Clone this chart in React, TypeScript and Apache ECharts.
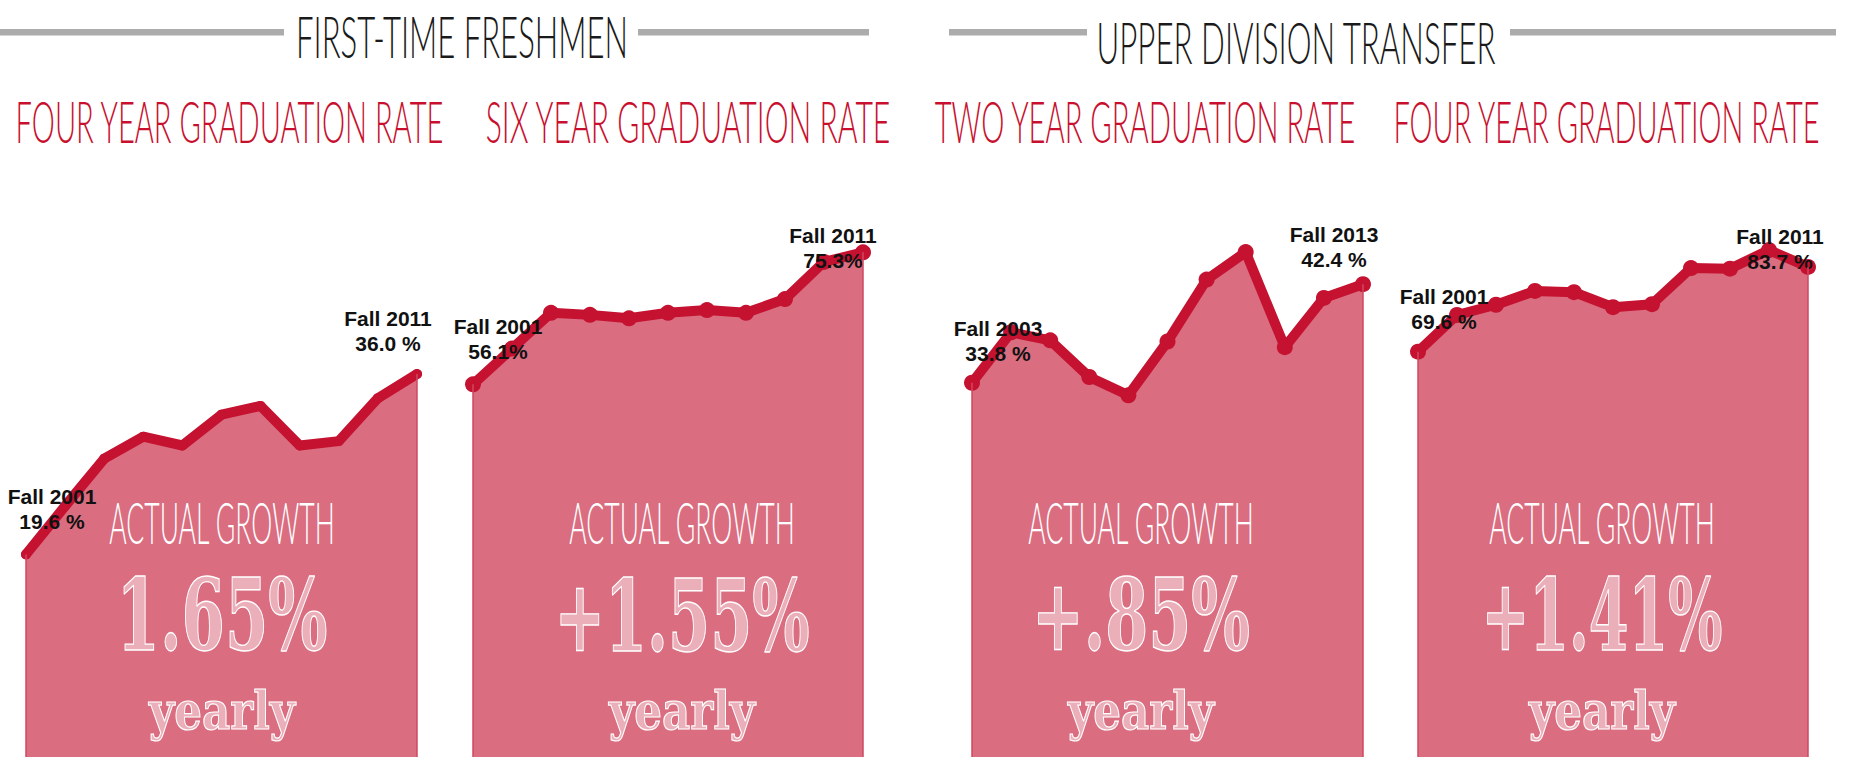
import React, { useEffect, useRef } from 'react';
import * as echarts from 'echarts';

// ---------- data ----------
const cohortsA = ['2001', '2002', '2003', '2004', '2005', '2006', '2007', '2008', '2009', '2010', '2011'];
const cohortsB = ['2003', '2004', '2005', '2006', '2007', '2008', '2009', '2010', '2011', '2012', '2013'];

const ftfFourYear = [19.6, 24.0, 28.3, 30.3, 29.5, 32.3, 33.1, 29.5, 29.9, 33.8, 36.0];
const ftfSixYear = [56.1, 61.3, 66.5, 66.2, 65.7, 66.5, 66.9, 66.5, 68.5, 73.9, 75.3];
const udtTwoYear = [33.8, 38.2, 37.5, 34.3, 32.7, 37.4, 42.8, 45.2, 36.9, 41.2, 42.4];
const udtFourYear = [69.6, 75.7, 77.4, 79.7, 79.5, 77.0, 77.5, 83.5, 83.4, 86.5, 83.7];

const groupTitles = ['FIRST-TIME FRESHMEN', 'UPPER DIVISION TRANSFER'];
const panelTitles = ['FOUR YEAR GRADUATION RATE', 'SIX YEAR GRADUATION RATE', 'TWO YEAR GRADUATION RATE', 'FOUR YEAR GRADUATION RATE'];
const growthHeading = 'ACTUAL GROWTH';
const growthValues = ['1.65%', '+1.55%', '+.85%', '+1.41%'];
const growthUnit = 'yearly';
const startLabels = ['Fall 2001\n19.6 %', 'Fall 2001\n56.1%', 'Fall 2003\n33.8 %', 'Fall 2001\n69.6 %'];
const endLabels = ['Fall 2011\n36.0 %', 'Fall 2011\n75.3%', 'Fall 2013\n42.4 %', 'Fall 2011\n83.7 %'];
const yMax = [50, 80, 48, 91.5];

const panelSeries = [ftfFourYear, ftfSixYear, udtTwoYear, udtFourYear];
const panelCategories = [cohortsA, cohortsA, cohortsB, cohortsA];

// ---------- layout / style ----------
const LINE = '#c41230';
const FILL = '#da6d80';
const EDGE = '#cf4862';
const TITLE_RED = '#c8102e';

const panelLayout = [
  { left: 26, width: 391, cx: 222, titleCx: 229.5, titleW: 429, numW: 211, sym: 10, startOff: [26, -15.5], endOff: [-29, -13.3] },
  { left: 473, width: 390, cx: 682, titleCx: 688, titleW: 406, numW: 255, sym: 16, startOff: [25, -12], endOff: [-30, 29] },
  { left: 972, width: 391, cx: 1141, titleCx: 1145, titleW: 422, numW: 218, sym: 16, startOff: [26, -9], endOff: [-29, -4] },
  { left: 1418, width: 390, cx: 1602, titleCx: 1606.5, titleW: 427, numW: 241, sym: 16, startOff: [26, -10], endOff: [-28, 15] },
];
const groupLayout = [
  { cx: 462, cy: 35.5, w: 332 },
  { cx: 1296, cy: 41.5, w: 400 },
];
const rules = [[0, 284], [638, 869], [949, 1087], [1510, 1836]];

export default function App() {
  const ref = useRef<HTMLDivElement>(null);

  useEffect(() => {
    const el = ref.current;
    if (!el) return;
    const chart = echarts.init(el, undefined, { renderer: 'svg' });
    const ctx = document.createElement('canvas').getContext('2d') as CanvasRenderingContext2D;
    const fit = (text: string, weight: string | number, size: number, family: string, width: number) => {
      ctx.font = `${weight} ${size}px ${family}`;
      const w = ctx.measureText(text).width;
      return w > 0 ? width / w : 1;
    };

    const CONDENSED = 'Lato';
    const CHALK = 'DejaVu Serif';

    const graphics: any[] = [];
    rules.forEach(([x0, x1]) => {
      graphics.push({ type: 'rect', z: 100, shape: { x: x0, y: 29, width: x1 - x0, height: 6.5 }, style: { fill: '#acacac' } });
    });
    groupTitles.forEach((t, i) => {
      const g = groupLayout[i];
      graphics.push({
        type: 'text', z: 100, x: g.cx, y: g.cy, scaleX: fit(t, 300, 58, CONDENSED, g.w),
        style: { text: t, fontFamily: CONDENSED, fontWeight: 300, fontSize: 58, fill: '#1a1a1a', align: 'center', verticalAlign: 'middle' },
      });
    });
    panelTitles.forEach((t, i) => {
      const p = panelLayout[i];
      graphics.push({
        type: 'text', z: 100, x: p.titleCx, y: 121, scaleX: fit(t, 300, 57, CONDENSED, p.titleW),
        style: { text: t, fontFamily: CONDENSED, fontWeight: 300, fontSize: 57, fill: TITLE_RED, align: 'center', verticalAlign: 'middle' },
      });
      graphics.push({
        type: 'text', z: 100, x: p.cx, y: 521.5, scaleX: fit(growthHeading, 300, 58, CONDENSED, 226),
        style: { text: growthHeading, fontFamily: CONDENSED, fontWeight: 300, fontSize: 58, fill: '#ffffff', align: 'center', verticalAlign: 'middle' },
      });
      graphics.push({
        type: 'text', z: 100, x: p.cx, y: 615, scaleX: fit(growthValues[i], 'bold', 100, CHALK, p.numW),
        style: {
          text: growthValues[i], fontFamily: CHALK, fontWeight: 'bold', fontSize: 100,
          fill: 'rgba(255,255,255,0.45)', stroke: '#ffffff', lineWidth: 1.4, align: 'center', verticalAlign: 'middle',
        },
      });
      graphics.push({
        type: 'text', z: 100, x: p.cx, y: 710, scaleX: fit(growthUnit, 'bold', 53, CHALK, 146),
        style: {
          text: growthUnit, fontFamily: CHALK, fontWeight: 'bold', fontSize: 53,
          fill: 'rgba(255,255,255,0.45)', stroke: '#ffffff', lineWidth: 1.2, align: 'center', verticalAlign: 'middle',
        },
      });
    });

    const grids = panelLayout.map((p) => ({ left: p.left, width: p.width, top: 220, height: 550, outerBoundsMode: 'none', containLabel: false }));
    const xAxes = panelCategories.map((c, i) => ({ type: 'category', gridIndex: i, data: c, boundaryGap: false, show: false }));
    const yAxes = yMax.map((m, i) => ({ type: 'value', gridIndex: i, min: 0, max: m, show: false }));

    const labelBase = {
      show: true, position: 'top', distance: 0, color: '#111111',
      fontFamily: 'Liberation Sans', fontWeight: 'bold', fontSize: 21, lineHeight: 25, align: 'center',
    };

    const series = panelSeries.map((vals, i) => {
      const p = panelLayout[i];
      const cats = panelCategories[i];
      const last = vals.length - 1;
      const data = vals.map((v, j) => {
        if (j === 0) return { value: v, label: { ...labelBase, formatter: startLabels[i], offset: p.startOff } };
        if (j === last) return { value: v, label: { ...labelBase, formatter: endLabels[i], offset: p.endOff } };
        return v;
      });
      return {
        type: 'line', xAxisIndex: i, yAxisIndex: i, z: 2,
        data,
        symbol: 'circle', symbolSize: p.sym, showSymbol: true,
        itemStyle: { color: LINE },
        lineStyle: { color: LINE, width: 10, cap: 'round', join: 'round' },
        areaStyle: { color: FILL, opacity: 1 },
        label: { show: false },
        emphasis: { disabled: true },
        markLine: {
          silent: true, symbol: ['none', 'none'], label: { show: false },
          lineStyle: { color: EDGE, width: 1.5, type: 'solid' },
          data: [
            [{ coord: [cats[0], vals[0]] }, { coord: [cats[0], 0] }],
            [{ coord: [cats[last], vals[last]] }, { coord: [cats[last], 0] }],
          ],
        },
      };
    });

    chart.setOption({
      animation: false,
      backgroundColor: '#ffffff',
      grid: grids,
      xAxis: xAxes,
      yAxis: yAxes,
      series,
      graphic: { elements: graphics },
    } as any);

    return () => chart.dispose();
  }, []);

  return <div ref={ref} style={{ position: 'absolute', left: 0, top: 0, width: 1854, height: 757 }} />;
}
